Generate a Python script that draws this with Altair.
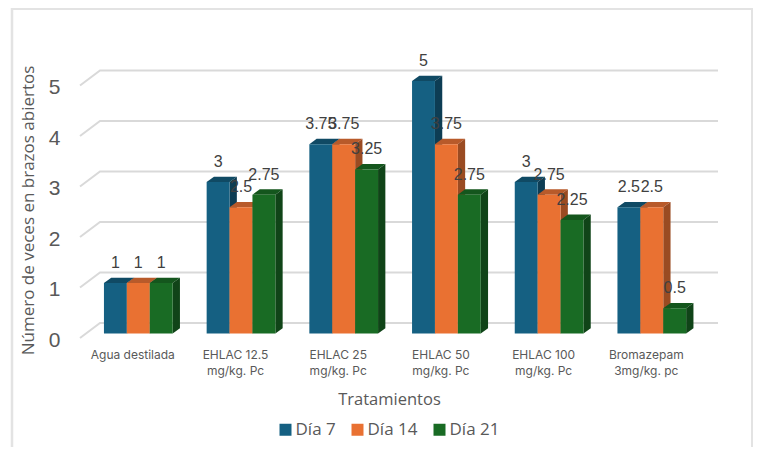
import altair as alt
import pandas as pd

categories = ["Agua destilada", "EHLAC 12.5|mg/kg. Pc", "EHLAC 25|mg/kg. Pc",
              "EHLAC 50|mg/kg. Pc", "EHLAC 100|mg/kg. Pc", "Bromazepam|3mg/kg. pc"]
series_names = ["Día 7", "Día 14", "Día 21"]
dia_7 = [1, 3, 3.75, 5, 3, 2.5]
dia_14 = [1, 2.5, 3.75, 3.75, 2.75, 2.5]
dia_21 = [1, 2.75, 3.25, 2.75, 2.25, 0.5]
y_ticks = [0, 1, 2, 3, 4, 5]

front_colors = ["#156082", "#E97132", "#196B24"]
top_colors = ["#104A64", "#B85A2A", "#14561D"]
side_colors = ["#0D3D54", "#9A4B22", "#104418"]
TEXT = "#595959"

# geometry, all in scale units
PX_X, PX_Y = 102.7, 50.5
X0, X1 = (80 - 132.3) / PX_X, (718 - 132.3) / PX_X
Y1 = 278 / PX_Y
BAR_W = 22.9 / PX_X
BAR_SHIFT_X, BAR_SHIFT_Y = 6 / PX_X, 4.5 / PX_Y
DEPTH_X, DEPTH_Y = 7.3 / PX_X, 5.3 / PX_Y
WALL_X, WALL_Y = 20 / PX_X, 15 / PX_Y

xs = alt.Scale(domain=[X0, X1], zero=False, nice=False)
ys = alt.Scale(domain=[0, Y1], zero=False, nice=False)

# axis labels as multi-line arrays
label_items = ",".join(
    "[" + ",".join("'" + p + "'" for p in c.split("|")) + "]" for c in categories
)
label_expr = f"[{label_items}][datum.value]"

x_axis = alt.Axis(
    values=list(range(len(categories))), labelExpr=label_expr, grid=False, domain=False,
    ticks=False, labelOverlap=False, labelFontSize=12, labelFont="Inter",
    labelColor=TEXT, labelPadding=11, labelLineHeight=16, labelFlush=False,
    title="Tratamientos", titleFont="Open Sans", titleFontSize=16.5, titleFontWeight="normal",
    titleColor=TEXT, titleX=309, titleY=61, titleBaseline="middle", titleAlign="center")
y_axis = alt.Axis(
    values=y_ticks, format="d", grid=False, domain=False, ticks=False,
    labelFontSize=21, labelFont="Liberation Sans", labelColor=TEXT, labelPadding=20, labelOffset=2,
    title="Número de veces en brazos abiertos", titleFont="Open Sans", titleFontSize=17,
    titleFontWeight="normal", titleColor=TEXT, titleX=-52, titleY=150,
    titleAlign="center", titleBaseline="middle")
X_ENC = alt.X("x:Q", scale=xs, axis=x_axis)
Y_ENC = alt.Y("y:Q", scale=ys, axis=y_axis, stack=False)

# gridlines
grid_rows = []
for v in y_ticks:
    grid_rows += [
        {"v": v, "x": X0, "y": v, "o": 0},
        {"v": v, "x": X0 + WALL_X, "y": v + WALL_Y, "o": 1},
        {"v": v, "x": X1, "y": v + WALL_Y, "o": 2},
    ]
grid = alt.Chart(pd.DataFrame(grid_rows)).mark_line(color="#D9D9D9", strokeWidth=2).encode(
    x=X_ENC, y=Y_ENC, detail="v:N", order="o:Q",
)

layers = [grid]
all_series = [dia_7, dia_14, dia_21]
label_rows = []
for s, (name, vals) in enumerate(zip(series_names, all_series)):
    front, side, top = [], [], []
    for g, v in enumerate(vals):
        xl = g + BAR_SHIFT_X - 1.5 * BAR_W + s * BAR_W
        xr = xl + BAR_W
        base, peak = BAR_SHIFT_Y, v + BAR_SHIFT_Y
        front.append({"s": name, "x": xl, "x2": xr, "y": base, "y2": peak})
        side += [
            {"g": g, "x": xr, "y": base, "y2": peak},
            {"g": g, "x": xr + DEPTH_X, "y": base + DEPTH_Y, "y2": peak + DEPTH_Y},
        ]
        top += [
            {"g": g, "x": xl, "y": peak, "y2": peak},
            {"g": g, "x": xl + DEPTH_X, "y": peak, "y2": peak + DEPTH_Y},
            {"g": g, "x": xr, "y": peak, "y2": peak + DEPTH_Y},
            {"g": g, "x": xr + DEPTH_X, "y": peak + DEPTH_Y, "y2": peak + DEPTH_Y},
        ]
        label_rows.append({"x": (xl + xr) / 2, "y": peak, "v": v})
    layers.append(alt.Chart(pd.DataFrame(top)).mark_area(color=top_colors[s]).encode(
        x=X_ENC, y=Y_ENC, y2="y2:Q", detail="g:N"))
    layers.append(alt.Chart(pd.DataFrame(side)).mark_area(color=side_colors[s]).encode(
        x=X_ENC, y=Y_ENC, y2="y2:Q", detail="g:N"))
    layers.append(alt.Chart(pd.DataFrame(front)).mark_rect().encode(
        x=X_ENC, x2="x2:Q", y=Y_ENC, y2="y2:Q",
        color=alt.Color("s:N", scale=alt.Scale(domain=series_names, range=front_colors),
                        legend=alt.Legend(
                            title=None, orient="none", direction="horizontal",
                            legendX=197, legendY=361, symbolType="square", symbolSize=144,
                            symbolStrokeWidth=0, labelFont="Open Sans", labelFontSize=17,
                            labelColor=TEXT, columnPadding=13, labelOffset=1.5,
                            values=series_names))))

labels = alt.Chart(pd.DataFrame(label_rows)).mark_text(
    font="Liberation Sans", fontSize=16, color="#404040", dy=-20, baseline="middle", align="center"
).encode(x=X_ENC, y=Y_ENC, text=alt.Text("v:Q", format="~g"))
layers.append(labels)

# frame
frame_df = pd.DataFrame({"k": [0]})
frame = [
    alt.Chart(frame_df).mark_rule(color="#E3E3E3", strokeWidth=2.5).encode(
        x=alt.value(-68), y=alt.value(-52), y2=alt.value(392)),
    alt.Chart(frame_df).mark_rule(color="#E3E3E3", strokeWidth=2).encode(
        x=alt.value(-69), x2=alt.value(672), y=alt.value(-51)),
    alt.Chart(frame_df).mark_rule(color="#E3E3E3", strokeWidth=2).encode(
        x=alt.value(672), y=alt.value(-52), y2=alt.value(392)),
]

chart = alt.layer(*layers, *frame).properties(
    width=638, height=278,
    padding={"left": 72, "top": 52, "right": 35, "bottom": 109},
    autosize=alt.AutoSizeParams(type="none"),
    background="white",
).configure_view(stroke=None)

chart.save("out.html", embed_options={"renderer": "svg", "actions": False})
